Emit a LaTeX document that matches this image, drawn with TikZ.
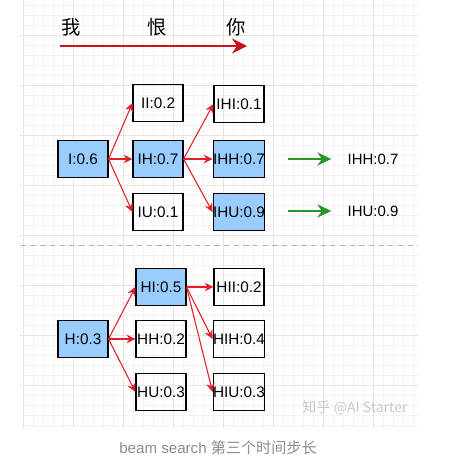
\documentclass[tikz,border=0pt]{standalone}
\usepackage{fontspec}
\setmainfont{Liberation Sans}
\newfontfamily\cjk{Noto Sans CJK SC}
\usetikzlibrary{arrows.meta, positioning}
\definecolor{bleuclair}{RGB}{153, 204, 255}
\definecolor{rougeflux}{RGB}{226, 30, 40}
\definecolor{rougetemps}{RGB}{200, 20, 30}
\definecolor{vertgarde}{RGB}{40, 150, 40}
\definecolor{grismin}{RGB}{243, 243, 243}
\definecolor{grismaj}{RGB}{228, 228, 228}

\begin{document}
\begin{tikzpicture}[
    x=0.02cm, y=-0.02cm,
    >=Stealth,
    state/.style={draw=black, line width=0.6pt, minimum width=1cm,
                  minimum height=0.74cm, inner sep=0pt,
                  font=\fontsize{8.7}{10}\selectfont},
    beam/.style={state, fill=bleuclair},
    expand/.style={-{Stealth[length=5pt, width=4.8pt]}, rougeflux, line width=0.6pt},
    keep/.style={-{Stealth[length=8pt, width=7.5pt]}, vertgarde, line width=1.2pt},
    word/.style={font=\cjk\fontsize{11}{13}\selectfont},
    result/.style={inner sep=0pt, font=\fontsize{8.5}{10}\selectfont}
]
\useasboundingbox (0,0) rectangle (450,460);

% --- grille de fond ---
\foreach \gx in {23,33,...,413} \draw[grismin, line width=0.4pt] (\gx,0) -- (\gx,428);
\foreach \gy in {5,15,...,425} \draw[grismin, line width=0.4pt] (20,\gy) -- (418,\gy);
\foreach \gx in {23,73,...,373} \draw[grismaj, line width=0.5pt] (\gx,0) -- (\gx,428);
\foreach \gy in {35,85,...,385} \draw[grismaj, line width=0.5pt] (20,\gy) -- (418,\gy);

% ============================================================
%  AXE DU TEMPS (en haut)
% ============================================================
\node[word] (wo)  at (71,27)  {我};
\node[word] (hen) at (157,27) {恨};
\node[word] (ni)  at (236,27) {你};
\coordinate (tstart) at (60,46);
\coordinate (tend)   at (247,46);
\draw[-{Stealth[length=8.5pt, width=8.5pt]}, rougetemps, line width=1.1pt]
    (tstart) -- (tend);

% ============================================================
%  BRANCHE I (en haut)
% ============================================================
\node[beam]  (I)   at (83,159)  {I:0.6};
\node[state] (II)  at (158,103) {II:0.2};
\node[beam]  (IH)  at (158,159) {IH:0.7};
\node[state] (IU)  at (158,212) {IU:0.1};
\node[state] (IHI) at (239,104) {IHI:0.1};
\node[beam]  (IHH) at (239,159) {IHH:0.7};
\node[beam]  (IHU) at (239,212) {IHU:0.9};

\draw[expand] (I.east) -- (II.west);
\draw[expand] (I.east) -- (IH.west);
\draw[expand] (I.east) -- (IU.west);
\draw[expand] (IH.east) -- (IHI.west);
\draw[expand] (IH.east) -- (IHH.west);
\draw[expand] (IH.east) -- (IHU.west);

% --- sequences retenues ---
\node[result] (resIHH) at (373,159) {IHH:0.7};
\node[result] (resIHU) at (373,211) {IHU:0.9};
\draw[keep, shorten <=0.46cm, shorten >=0.32cm] (IHH.east) -- (resIHH.west);
\draw[keep, shorten <=0.46cm, shorten >=0.32cm] (IHU.east |- resIHU) -- (resIHU.west);

% --- separation ---
\coordinate (sepL) at (21,245);
\coordinate (sepR) at (418,245);
\draw[gray!60, line width=0.5pt, dash pattern=on 3pt off 2.5pt] (sepL) -- (sepR);

% ============================================================
%  BRANCHE H (en bas)
% ============================================================
\node[beam]  (H)   at (83,339)  {H:0.3};
\node[beam]  (HI)  at (161,287) {HI:0.5};
\node[state] (HH)  at (161,339) {HH:0.2};
\node[state] (HU)  at (161,392) {HU:0.3};
\node[state] (HII) at (239,287) {HII:0.2};
\node[state] (HIH) at (239,339) {HIH:0.4};
\node[state] (HIU) at (239,392) {HIU:0.3};

\draw[expand] (H.east) -- (HI.west);
\draw[expand] (H.east) -- (HH.west);
\draw[expand] (H.east) -- (HU.west);
\draw[expand] (HI.east) -- (HII.west);
\draw[expand] (HI.east) -- (HIH.west);
\draw[expand] (HI.east) -- (HIU.west);

% --- filigrane et legende ---
\node[text=black!22, font=\cjk\fontsize{8}{10}\selectfont] (mark) at (355,408) {知乎 @AI Starter};
\node[text=black!45, font=\fontsize{8.6}{11}\selectfont] (caption) at (218,448)
    {beam search {\cjk 第三个时间步长}};

\end{tikzpicture}
\end{document}
